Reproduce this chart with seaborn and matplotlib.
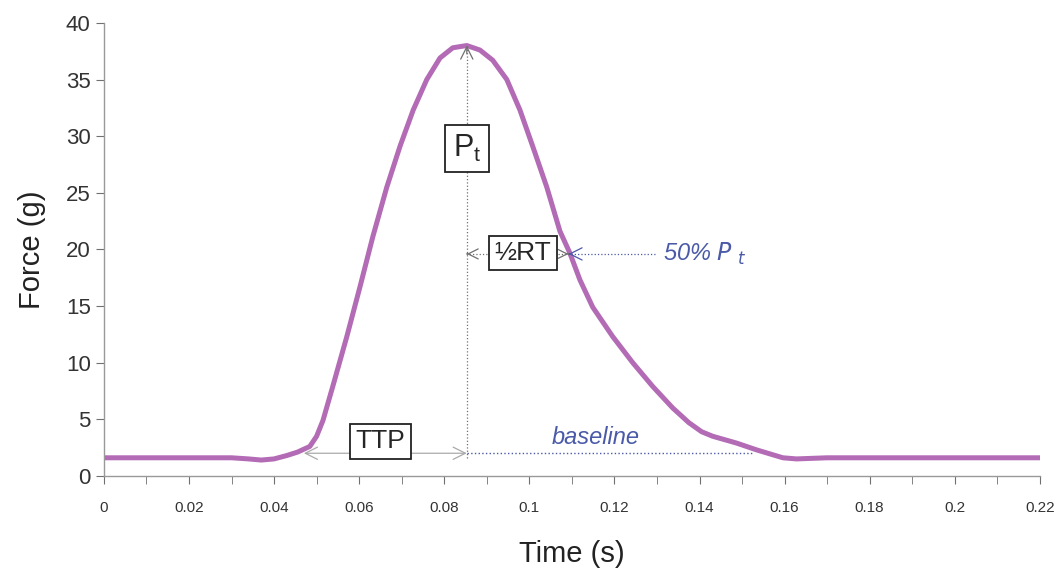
import numpy as np
import pandas as pd
import matplotlib
matplotlib.use("Agg")
import matplotlib.pyplot as plt
import seaborn as sns
from matplotlib.ticker import MultipleLocator, FuncFormatter

# force trace
time_s = [0.0, 0.01, 0.02, 0.030, 0.034, 0.037, 0.040, 0.043, 0.0455, 0.0484, 0.050,
          0.0515, 0.0538, 0.0571, 0.0602, 0.0632, 0.0665, 0.0696, 0.0727, 0.0759,
          0.079, 0.082, 0.0853, 0.0884, 0.0914, 0.0947, 0.0978, 0.1008, 0.1041,
          0.1072, 0.1095, 0.1119, 0.1149, 0.1196, 0.1243, 0.129, 0.1337, 0.1375,
          0.1405, 0.1431, 0.1487, 0.1534, 0.1596, 0.1628, 0.170, 0.19, 0.22]
force_g = [1.6, 1.6, 1.6, 1.6, 1.5, 1.4, 1.5, 1.8, 2.1, 2.6, 3.5,
           4.9, 7.9, 12.3, 16.7, 21.1, 25.5, 29.1, 32.3, 35.0,
           36.9, 37.8, 38.0, 37.6, 36.7, 35.0, 32.3, 29.1, 25.5,
           21.6, 19.7, 17.3, 14.9, 12.3, 10.0, 7.9, 6.0, 4.7,
           3.9, 3.5, 2.9, 2.3, 1.6, 1.5, 1.6, 1.6, 1.6]

peak_t = 0.0853
peak_f = 38.0
half_f = 19.6
half_t = 0.1092
onset_t = 0.047
base_level = 2.0
base_end_t = 0.1525

sns.set_style("ticks")
plt.rcParams["font.family"] = ["Liberation Sans", "DejaVu Sans"]

df = pd.DataFrame({"Time (s)": time_s, "Force (g)": force_g})

fig = plt.figure(figsize=(10.6, 5.72), dpi=100)
ax = fig.add_axes([0.098, 0.168, 0.883, 0.792])

sns.lineplot(data=df, x="Time (s)", y="Force (g)", ax=ax, color="#b36bb5",
             linewidth=3.6, solid_capstyle="round", solid_joinstyle="round")

grey = "#707070"
blue = "#4a5aa8"


def dotted_arrow(x0, y0, x1, y1, color, size=20):
    # dotted shaft, solid open head pointing at (x1, y1)
    ax.plot([x0, x1], [y0, y1], color=color, lw=0.9, ls=":")
    ax.annotate("", xy=(x1, y1), xytext=(x1 - (x1 - x0) * 0.02, y1 - (y1 - y0) * 0.02),
                arrowprops=dict(arrowstyle="->", color=color, lw=0.9,
                                mutation_scale=size, shrinkA=0, shrinkB=0))


# peak line
dotted_arrow(peak_t, 1.6, peak_t, peak_f, grey, 22)
ax.text(peak_t, 28.9, r"P$_\mathregular{t}$", fontsize=22, ha="center", va="center",
        bbox=dict(boxstyle="square,pad=0.25", fc="white", ec="#222222", lw=1.3))

# half relaxation time
dotted_arrow(0.090, half_f, peak_t, half_f, grey, 18)
dotted_arrow(0.1068, half_f, half_t, half_f, grey, 16)
ax.text(0.0985, half_f + 0.1, "½RT", fontsize=19, ha="center", va="center",
        bbox=dict(boxstyle="square,pad=0.2", fc="white", ec="#222222", lw=1.3))
dotted_arrow(0.1295, half_f, half_t, half_f, blue, 22)
ax.text(0.1314, half_f, r"50% $\mathit{P}$ $_\mathit{t}$", fontsize=17, ha="left",
        va="center", color=blue, style="italic")

# time to peak
ax.annotate("", xy=(onset_t, base_level), xytext=(peak_t, base_level),
            arrowprops=dict(arrowstyle="<->", color="#aaaaaa", lw=0.9, mutation_scale=22,
                            shrinkA=0, shrinkB=0))
ax.text(0.065, 3.05, "TTP", fontsize=19, ha="center", va="center",
        bbox=dict(boxstyle="square,pad=0.2", fc="white", ec="#222222", lw=1.3))

# baseline
ax.plot([peak_t, base_end_t], [base_level, base_level], color=blue, lw=1.0, ls=":")
ax.text(0.1155, 3.4, "baseline", fontsize=17, ha="center", va="center",
        color=blue, style="italic")

ax.set_xlim(0, 0.22)
ax.set_ylim(0, 40)
ax.xaxis.set_major_locator(MultipleLocator(0.02))
ax.xaxis.set_minor_locator(MultipleLocator(0.01))
ax.yaxis.set_major_locator(MultipleLocator(5))
ax.xaxis.set_major_formatter(FuncFormatter(lambda v, p: "%g" % round(v, 3)))
ax.tick_params(axis="x", which="both", length=6, color=grey, labelsize=11, pad=12,
               labelcolor="#333333")
ax.tick_params(axis="y", length=6, color=grey, labelsize=16, labelcolor="#333333")
for s in ["left", "bottom"]:
    ax.spines[s].set_color("#999999")
    ax.spines[s].set_linewidth(1.0)
sns.despine(ax=ax)

ax.set_xlabel("Time (s)", fontsize=21, labelpad=18, color="#222222")
ax.set_ylabel("Force (g)", fontsize=21, labelpad=14, color="#222222")

fig.savefig("out.png", dpi=100)
